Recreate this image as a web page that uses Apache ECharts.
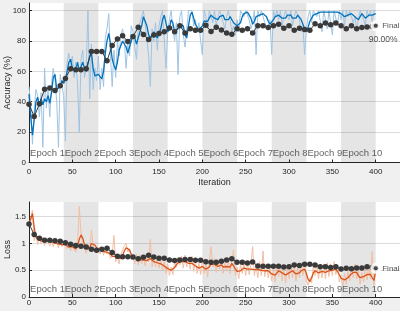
<!DOCTYPE html>
<html><head><meta charset="utf-8">
<script src="https://cdn.jsdelivr.net/npm/echarts@6/dist/echarts.min.js"></script>
<style>html,body{margin:0;padding:0;background:#f0f0f0}#c{width:400px;height:311px}</style>
</head><body><div id="c"></div>
<script>
// ---- data ----
const trainStep = 2; // training curves sampled every 2 iterations (0..400)
const accRaw = [
50,38,12,34,48,44,30,46,10,62, 36,48,30,52,62,54,40,10,58,50,
44,14,66,72,62,70,56,66,52,20, 68,74,56,62,100,42,78,48,62,54,
70,48,62,50,82,88,98,70,50,74, 56,80,70,84,88,80,62,78,70,90,
86,76,68,88,92,96,100,100,82,70, 50,88,80,92,74,90,96,100,100,62,
86,94,100,88,80,92,58,96,100,84, 76,88,100,100,100,90,94,86,92,80,
71,100,96,88,100,100,92,100,90,96, 100,100,92,88,96,100,94,86,90,84,
94,86,100,100,96,100,100,94,88,92, 100,71,100,96,100,100,92,88,90,94,
71,100,96,100,94,100,90,96,100,100, 94,100,90,96,100,100,94,86,90,71,
88,96,100,92,100,100,96,100,100,86, 100,100,88,100,100,84,100,100,90,100,
94,100,90,100,96,100,100,92,96,88, 94,100,100,94,90,100,96,100,92,100,
100];
const accSmooth = [
45,30,18,28,40,43,37,42,38,42, 40,44,39,46,56,58,48,47,50,54,
52,55,60,66,68,62,63,61,66,60, 63,66,62,60,65,70,72,62,57,56,
58,57,55,60,72,80,85,78,68,64, 61,66,74,77,80,80,76,72,73,80,
84,82,78,82,86,90,96,97,90,84, 82,84,86,85,82,83,88,94,97,92,
86,88,94,92,86,85,88,91,92,90, 84,82,90,97,99,95,91,89,87,86,
90,93,94,93,95,97,97,95,94,94, 96,97,97,94,93,94,96,95,92,91,
90,89,92,96,98,98,99,99,95,91, 93,96,97,97,98,98,98,96,93,91,
91,94,96,96,97,96,95,94,95,97, 98,97,95,94,95,97,97,94,91,88,
86,89,93,94,97,98,98,99,99,99, 99,99,99,99,99,99,99,99,99,99,
98,97,96,96,97,98,98,97,96,95, 94,96,98,97,95,95,97,97,97,98,
98];
const lossRaw = [
1.32,1.48,1.62,1.05,1.18,0.98,1.14,1.00,1.12,0.96, 1.08,1.10,0.95,1.06,0.94,1.08,1.04,0.92,1.06,0.94,
1.02,1.00,0.90,0.98,0.86,1.00,0.88,0.84,0.98,1.69, 1.20,0.96,0.90,0.82,0.92,0.86,1.25,0.96,0.90,0.84,
0.92,0.80,0.90,0.78,0.92,0.80,0.84,0.72,0.80,1.15, 0.66,0.78,0.62,0.80,0.88,0.96,1.00,0.84,0.90,0.70,
0.78,0.62,0.80,0.60,0.78,0.62,0.76,0.58,0.74,0.66, 1.08,0.56,0.74,0.56,0.72,0.54,0.70,0.50,0.66,0.44,
0.62,0.40,0.56,0.42,0.66,0.56,0.74,0.60,0.76,0.54, 0.78,0.56,0.74,0.52,0.76,0.48,0.68,0.44,0.64,0.42,
0.70,0.44,0.62,0.38,0.66,0.94,0.56,0.72,0.46,0.68, 0.52,0.72,0.44,0.64,0.48,0.66,0.44,0.70,0.88,0.40,
0.56,0.34,0.62,0.44,0.66,0.40,0.64,0.42,0.62,0.94, 0.40,0.58,0.36,0.66,0.40,0.86,0.38,0.62,0.36,0.56,
0.30,0.52,0.28,0.60,0.38,0.62,0.30,0.56,0.26,0.54, 0.34,0.62,0.36,0.58,0.30,0.54,0.36,0.64,0.40,0.66,
0.30,0.22,0.36,0.26,0.58,0.40,0.62,0.34,0.58,0.36, 0.62,0.34,0.64,0.38,0.62,0.40,0.66,0.42,0.60,0.28,
0.40,0.20,0.44,0.24,0.48,0.30,0.56,0.36,0.62,0.34, 0.50,0.24,0.46,0.28,0.54,0.32,0.58,0.34,0.85,0.22,
0.60];
const lossSmooth = [
1.38,1.45,1.56,1.30,1.12,1.08,1.06,1.05,1.07,1.04, 1.03,1.05,1.02,1.03,1.00,1.01,1.02,0.99,1.00,0.98,
0.97,0.98,0.96,0.93,0.92,0.94,0.92,0.90,0.95,1.08, 1.16,1.10,0.98,0.90,0.88,0.92,1.00,1.03,0.97,0.92,
0.89,0.88,0.86,0.85,0.86,0.84,0.82,0.80,0.76,0.74, 0.76,0.72,0.70,0.72,0.78,0.86,0.92,0.94,0.88,0.80,
0.73,0.70,0.71,0.69,0.70,0.68,0.69,0.67,0.68,0.70, 0.72,0.69,0.66,0.66,0.64,0.63,0.62,0.60,0.58,0.55,
0.53,0.51,0.50,0.51,0.55,0.60,0.64,0.67,0.66,0.64, 0.66,0.65,0.63,0.64,0.63,0.60,0.58,0.56,0.54,0.55,
0.57,0.55,0.52,0.50,0.56,0.62,0.64,0.61,0.58,0.57, 0.60,0.60,0.56,0.55,0.57,0.54,0.56,0.63,0.58,0.52,
0.48,0.47,0.49,0.52,0.54,0.54,0.52,0.51,0.52,0.52, 0.51,0.49,0.51,0.53,0.50,0.48,0.49,0.50,0.49,0.46,
0.43,0.41,0.41,0.45,0.49,0.48,0.45,0.43,0.41,0.42, 0.45,0.48,0.49,0.46,0.43,0.42,0.45,0.49,0.51,0.52,
0.44,0.33,0.29,0.36,0.45,0.49,0.47,0.45,0.46,0.48, 0.47,0.46,0.48,0.49,0.49,0.50,0.51,0.52,0.51,0.42,
0.35,0.33,0.32,0.32,0.36,0.40,0.42,0.46,0.49,0.46, 0.40,0.36,0.35,0.38,0.41,0.42,0.43,0.42,0.36,0.31,
0.50];
const valIters = [0,6,12,18,24,30,36,42,48,54,60,66,72,78,84,90,96,102,108,114,120,126,132,138,144,150,
156,162,168,174,180,186,192,198,204,210,216,222,228,234,240,246,252,258,264,270,276,282,288,294,300,
306,312,318,324,330,336,342,348,354,360,366,372,378,384,390,396,400];
const valAcc = [
38.4,30.2,38.6,48.3,49,47.4,50.5,55.3,61.7,61, 61,61.7,73.1,73.1,73.1,67,77.1,81.3,83.5,79.7,
83,89,84.2,80.9,84,85,86,88.6,86.1,90.1, 85.3,88.1,87,87,90.3,86.3,89,87.2,85.3,84.4,
88,87,88.1,85.3,90.1,90.1,88.8,90.1,91,88.3, 90.1,87,88.3,87.5,87,91.4,90.1,91.9,90.6,91.9,
90.1,88.1,90.1,88.1,88.8,89.2,89.6,90];
const valLoss = [
1.364,1.17,1.097,1.06,1.06,1.052,1.04,1.015,0.985,0.96, 0.947,0.935,0.89,0.873,0.89,0.91,0.83,0.76,0.753,0.753,
0.748,0.716,0.742,0.78,0.748,0.723,0.723,0.69,0.68,0.69, 0.70,0.70,0.686,0.686,0.66,0.65,0.65,0.667,0.69,0.716,
0.65,0.65,0.635,0.654,0.58,0.574,0.574,0.574,0.574,0.56, 0.567,0.60,0.59,0.61,0.61,0.60,0.567,0.567,0.55,0.567,
0.523,0.536,0.53,0.54,0.54,0.567,0.55,0.536];
const epochNames = ['Epoch 1','Epoch 2','Epoch 3','Epoch 4','Epoch 5','Epoch 6','Epoch 7','Epoch 8','Epoch 9','Epoch 10'];
const epochStarts = [0,40,80,120,160,200,240,280,320,360];
const shadedEpochs = [[40,80],[120,160],[200,240],[280,320],[360,400]];
const finalIter = 400;
const finalAcc = 90;
const finalAccText = '90.00%';
const finalLoss = 0.536;
const xTicksMax = 428;

// ---- build ----
const FONT = 'Liberation Sans';
const TXT = '#262626';
const iters = accRaw.map((_, i) => i * trainStep);
const pair = (xs, ys) => ys.map((v, i) => [xs[i], v]);

function xAxisCfg(gi, margin, name) {
  return {
    gridIndex: gi, type: 'value', min: 0, max: xTicksMax, interval: 50,
    name: name, nameLocation: 'middle', nameGap: 16, nameMoveOverlap: false,
    nameTextStyle: { fontFamily: FONT, fontSize: 9, color: TXT },
    axisLine: { show: true, onZero: false, lineStyle: { color: TXT, width: 1 } },
    axisTick: { show: true, inside: true, length: 3, lineStyle: { color: TXT } },
    axisLabel: { fontFamily: FONT, fontSize: 8, color: TXT, margin: margin, showMaxLabel: false },
    splitLine: { show: false }
  };
}
function yAxisCfg(gi, max, interval, name) {
  return {
    gridIndex: gi, type: 'value', min: 0, max: max, interval: interval,
    name: name, nameLocation: 'middle', nameGap: 17, nameMoveOverlap: false,
    nameTextStyle: { fontFamily: FONT, fontSize: 9, color: TXT },
    axisLine: { show: true, lineStyle: { color: TXT, width: 1 } },
    axisTick: { show: true, inside: true, length: 3, lineStyle: { color: TXT } },
    axisLabel: { fontFamily: FONT, fontSize: 8, color: TXT, margin: 3, showMaxLabel: false },
    splitLine: { show: true, showMaxLine: false, lineStyle: { color: '#dcdcdc', width: 1 } }
  };
}
function bands(gi) {
  return {
    type: 'line', xAxisIndex: gi, yAxisIndex: gi, data: [], z: 1, silent: true,
    markArea: { silent: true, itemStyle: { color: 'rgba(0,0,0,0.1)' },
      data: shadedEpochs.map(b => [{ xAxis: b[0] }, { xAxis: b[1] }]) }
  };
}
function epochLabels(gi, yPos) {
  return {
    type: 'scatter', xAxisIndex: gi, yAxisIndex: gi, z: 6, silent: true,
    symbolSize: 0.1, itemStyle: { color: 'rgba(0,0,0,0)' },
    data: epochStarts.map((s, i) => ({ value: [s, yPos], name: epochNames[i] })),
    label: { show: true, position: 'right', distance: 1, formatter: '{b}',
      fontFamily: FONT, fontSize: 9.5, color: '#3a3a3a' }
  };
}
function lineS(gi, data, color, width, z) {
  return { type: 'line', xAxisIndex: gi, yAxisIndex: gi, data: data, z: z, silent: true,
    symbol: 'none', lineStyle: { color: color, width: width }, itemStyle: { color: color } };
}
function valS(gi, data) {
  return { type: 'line', xAxisIndex: gi, yAxisIndex: gi, data: data, z: 5, silent: true,
    symbol: 'circle', symbolSize: 5.5, showAllSymbol: true,
    lineStyle: { color: '#3a3a3a', width: 1 }, itemStyle: { color: '#3a3a3a' } };
}
function finalS(gi, y, extraLabel) {
  const out = [{
    type: 'scatter', xAxisIndex: gi, yAxisIndex: gi, z: 7, silent: true,
    symbol: 'emptyCircle', symbolSize: 9,
    itemStyle: { color: '#fff', borderColor: '#222', borderWidth: 1 },
    data: [[finalIter, y]],
    label: { show: true, position: 'right', distance: 1, formatter: 'Final',
      fontFamily: FONT, fontSize: 8, color: TXT }
  }, {
    type: 'scatter', xAxisIndex: gi, yAxisIndex: gi, z: 8, silent: true,
    symbol: 'circle', symbolSize: 4, itemStyle: { color: '#222' }, data: [[finalIter, y]]
  }];
  if (extraLabel) out.push({
    type: 'scatter', xAxisIndex: gi, yAxisIndex: gi, z: 8, silent: true,
    symbolSize: 0.1, itemStyle: { color: 'rgba(0,0,0,0)' }, data: [[finalIter, y]],
    label: { show: true, position: [-7, 14], align: 'left', verticalAlign: 'middle',
      formatter: extraLabel, fontFamily: FONT, fontSize: 8.5, color: TXT }
  });
  return out;
}

const chart = echarts.init(document.getElementById('c'), null, { renderer: 'canvas' });
chart.setOption({
  backgroundColor: '#f0f0f0',
  animation: false,
  grid: [
    { left: 29, top: 3, width: 371, height: 159.5, show: true, backgroundColor: '#fff', borderWidth: 0,
      containLabel: false, outerBoundsMode: 'none' },
    { left: 29, top: 202, width: 371, height: 95, show: true, backgroundColor: '#fff', borderWidth: 0,
      containLabel: false, outerBoundsMode: 'none' }
  ],
  xAxis: [xAxisCfg(0, 5, 'Iteration'), xAxisCfg(1, 2, '')],
  yAxis: [yAxisCfg(0, 105, 20, 'Accuracy (%)'), yAxisCfg(1, 1.775, 0.5, 'Loss')],
  series: [
    bands(0),
    lineS(0, pair(iters, accRaw), '#9fc4e3', 1, 2),
    lineS(0, pair(iters, accSmooth), '#0072BD', 1.3, 3),
    valS(0, pair(valIters, valAcc)),
    epochLabels(0, 6),
    ...finalS(0, finalAcc, finalAccText),
    bands(1),
    lineS(1, pair(iters, lossRaw), '#f3bea2', 1, 2),
    lineS(1, pair(iters, lossSmooth), '#D95319', 1.3, 3),
    valS(1, pair(valIters, valLoss)),
    epochLabels(1, 0.144),
    ...finalS(1, finalLoss, null)
  ]
});
</script></body></html>
